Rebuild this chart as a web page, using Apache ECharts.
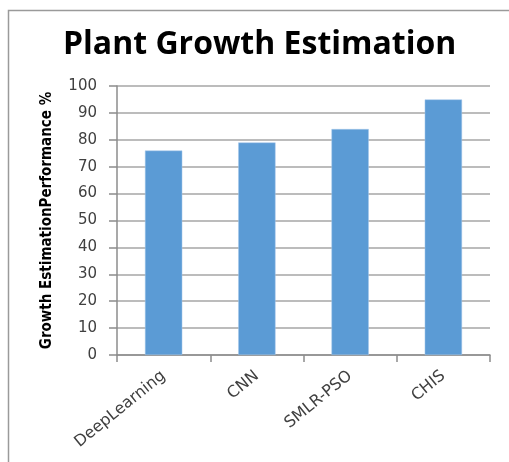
<!DOCTYPE html>
<html><head><meta charset="utf-8">
<script src="https://cdn.jsdelivr.net/npm/echarts@6/dist/echarts.min.js"></script>
<style>html,body{margin:0;padding:0;background:#fff}#c{width:509px;height:462px}</style>
</head><body><div id="c"></div>
<script>
var categories = ['DeepLearning', 'CNN', 'SMLR-PSO', 'CHIS'];
var values = [76, 79, 84, 95];
var titleText = 'Plant Growth Estimation';
var yAxisName = 'Growth EstimationPerformance %';

var chart = echarts.init(document.getElementById('c'));
chart.setOption({
  animation: false,
  backgroundColor: '#fff',
  graphic: [{
    type: 'rect', left: 6, top: 8, shape: {width: 700, height: 700},
    style: {fill: 'none', stroke: '#9a9a9a', lineWidth: 1.5}, silent: true, z: -1
  }],
  title: {
    text: titleText, left: 58, top: 24,
    textStyle: {fontFamily: 'Open Sans', fontWeight: 'bold', fontSize: 32, color: '#000'}
  },
  grid: {left: 117, right: 19, top: 86, bottom: 107},
  xAxis: {
    type: 'category', data: categories,
    axisLine: {lineStyle: {color: '#8c8c8c', width: 1.5}},
    axisTick: {show: true, alignWithLabel: false, length: 7, lineStyle: {color: '#8c8c8c', width: 1.5}},
    axisLabel: {rotate: 39, interval: 0, fontFamily: 'DejaVu Sans', fontSize: 16, color: '#404040', margin: 19}
  },
  yAxis: {
    type: 'value', min: 0, max: 100, interval: 10,
    name: yAxisName, nameLocation: 'middle', nameGap: 62, nameRotate: 90,
    nameTextStyle: {fontFamily: 'DejaVu Sans Condensed, Roboto, sans-serif', fontWeight: 'bold', fontSize: 15, color: '#000'},
    axisLine: {show: true, lineStyle: {color: '#8c8c8c', width: 1.5}},
    axisTick: {show: true, length: 8, lineStyle: {color: '#8c8c8c', width: 1.5}},
    splitLine: {lineStyle: {color: '#a6a6a6', width: 1.5}},
    axisLabel: {fontFamily: 'DejaVu Sans', fontSize: 15, color: '#404040', margin: 20}
  },
  series: [{
    type: 'bar', data: values, barWidth: '40%',
    itemStyle: {color: '#5B9BD5', borderColor: '#a9c8ea', borderWidth: 0.5}
  }]
});
</script></body></html>
